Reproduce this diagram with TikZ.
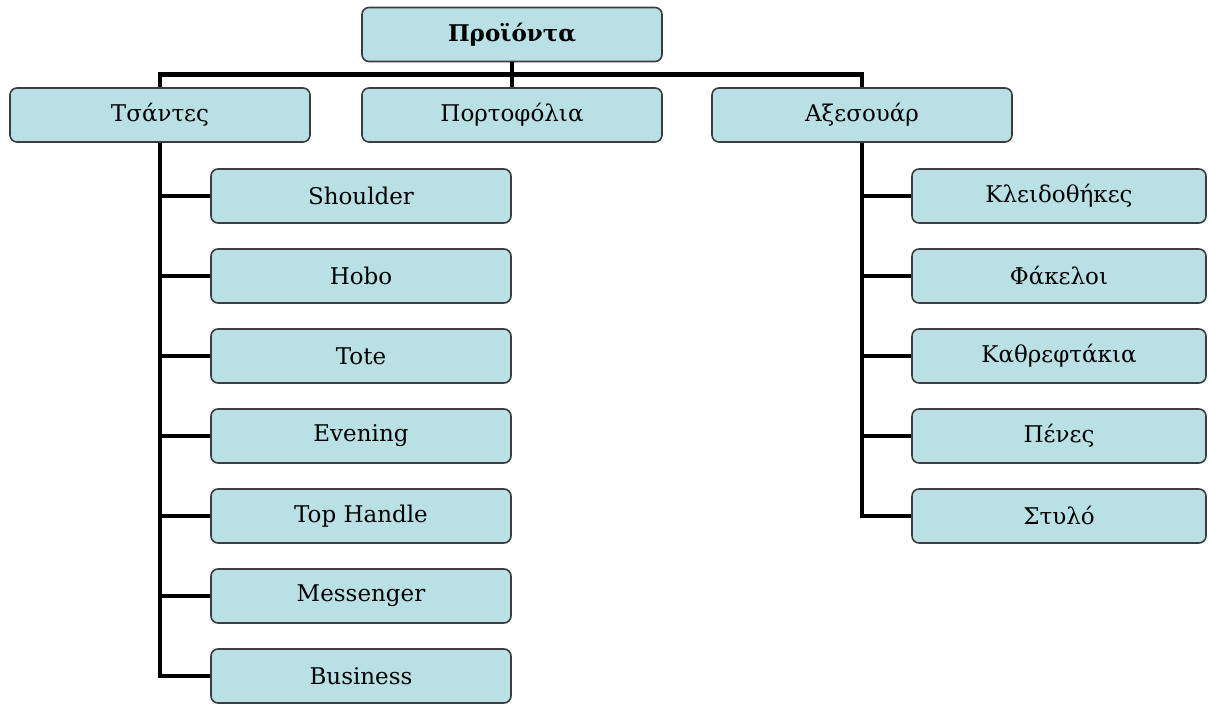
\documentclass[tikz,border=0pt]{standalone}
\usepackage{fontspec}
\setmainfont{DejaVu Serif}
\definecolor{boxfill}{RGB}{185,224,228}
\definecolor{boxline}{RGB}{60,60,60}
\begin{document}
\begin{tikzpicture}[x=0.5pt,y=-0.5pt,
  unit/.style={draw=boxline, line width=0.8pt, fill=boxfill, rounded corners=3.5pt,
    minimum width=150pt, minimum height=27pt, inner sep=0pt,
    font=\fontsize{11.5}{13}\selectfont},
  narrowunit/.style={unit, minimum width=147pt},
  link/.style={line width=2.3pt, black}]
\useasboundingbox (0,0) rectangle (1208,704);

% root and first level
\node[unit, font=\fontsize{11.5}{13}\selectfont\bfseries] (root) at (512,34.5) {Προϊόντα};
\node[unit] (bags)  at (160,115) {Τσάντες};
\node[unit] (wall)  at (512,115) {Πορτοφόλια};
\node[unit] (acc)   at (862,115) {Αξεσουάρ};

% bag types
\node[unit] (b1) at (361,196) {Shoulder};
\node[unit] (b2) at (361,276) {Hobo};
\node[unit] (b3) at (361,356) {Tote};
\node[unit] (b4) at (361,436) {Evening};
\node[unit] (b5) at (361,516) {Top Handle};
\node[unit] (b6) at (361,596) {Messenger};
\node[unit] (b7) at (361,676) {Business};

% accessories
\node[narrowunit] (a1) at (1059,196) {Κλειδοθήκες};
\node[narrowunit] (a2) at (1059,276) {Φάκελοι};
\node[narrowunit] (a3) at (1059,356) {Καθρεφτάκια};
\node[narrowunit] (a4) at (1059,436) {Πένες};
\node[narrowunit] (a5) at (1059,516) {Στυλό};

% connectors
\coordinate (bus) at (512,74.5);
\draw[link] (bags.north) |- (bus) -| (acc.north);
\draw[link] (root.south) -- (wall.north);
\foreach \k in {1,...,7} \draw[link] (bags.south) |- (b\k.west);
\foreach \k in {1,...,5} \draw[link] (acc.south) |- (a\k.west);
\end{tikzpicture}
\end{document}
